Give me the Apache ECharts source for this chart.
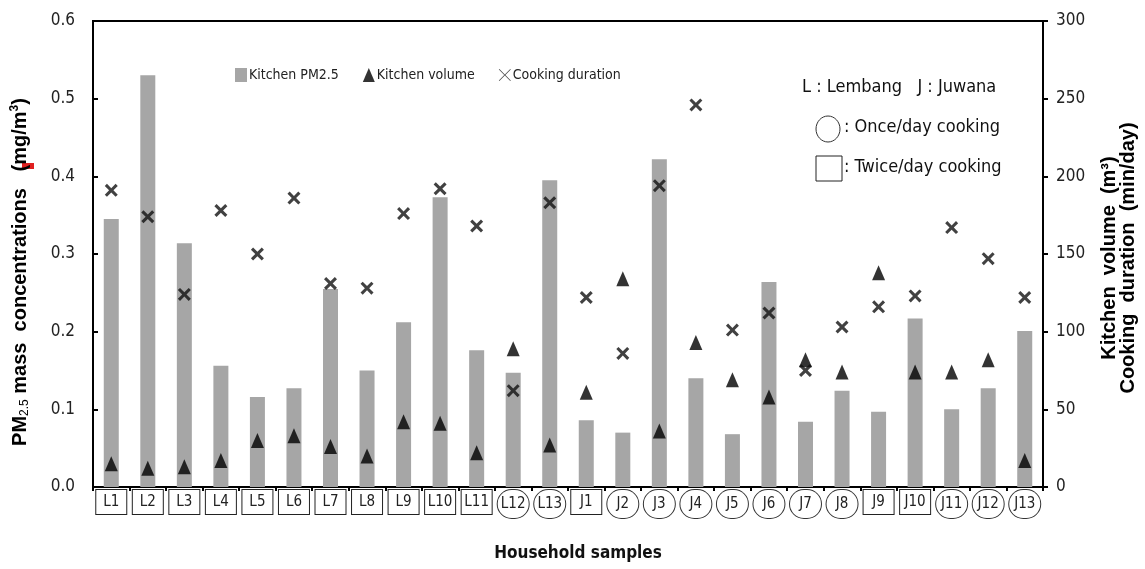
<!DOCTYPE html>
<html>
<head>
<meta charset="utf-8">
<script src="https://cdn.jsdelivr.net/npm/echarts@6/dist/echarts.min.js"></script>
<style>
  html, body { margin: 0; padding: 0; background: #fff; }
  #main { width: 1145px; height: 569px; }
</style>
</head>
<body>
<div id="main"></div>
<script>
// household samples (L = Lembang, J = Juwana)
var categories = ['L1','L2','L3','L4','L5','L6','L7','L8','L9','L10','L11','L12','L13',
                  'J1','J2','J3','J4','J5','J6','J7','J8','J9','J10','J11','J12','J13'];
// once/day cooking households are circled, the rest are boxed
var onceDay = ['L12','L13','J2','J3','J4','J5','J6','J7','J8','J11','J12','J13'];

// kitchen PM2.5 (mg/m3), left axis
var pm25 = [0.345, 0.530, 0.314, 0.156, 0.116, 0.127, 0.255, 0.150, 0.212, 0.373, 0.176, 0.147, 0.395,
            0.086, 0.070, 0.422, 0.140, 0.068, 0.264, 0.084, 0.124, 0.097, 0.217, 0.100, 0.127, 0.201];
// kitchen volume (m3), right axis
var volume = [15, 12, 13, 17, 30, 33, 26, 20, 42, 41, 22, 89, 27,
              61, 134, 36, 93, 69, 58, 82, 74, 138, 74, 74, 82, 17];
// cooking duration (min/day), right axis
var duration = [191, 174, 124, 178, 150, 186, 131, 128, 176, 192, 168, 62, 183,
                122, 86, 194, 246, 101, 112, 75, 103, 116, 123, 167, 147, 122];

var narrow = "'Liberation Sans Narrow', 'DejaVu Sans Condensed', sans-serif";
var boldFont = "'Liberation Sans', Arial, sans-serif";
var crossPath = 'path://M0,2L2,0L6,4L10,0L12,2L8,6L12,10L10,12L6,8L2,12L0,10L4,6Z';

var dom = document.getElementById('main');
var myChart = echarts.init(dom);
var option = {
  backgroundColor: '#fff',
  animation: false,
  textStyle: { fontFamily: narrow },
  grid: {
    left: 93, right: 102, top: 21, bottom: 82,
    containLabel: false, outerBoundsMode: 'none',
    show: true, borderColor: '#000', borderWidth: 2, backgroundColor: 'transparent'
  },
  legend: {
    left: 230, top: 63,
    itemWidth: 12, itemHeight: 14, itemGap: 24,
    textStyle: { fontFamily: narrow, fontSize: 14, color: '#222', padding: [0, 0, 0, -3] },
    data: [
      { name: 'Kitchen PM2.5', icon: 'rect', itemStyle: { color: '#a6a6a6' } },
      { name: 'Kitchen volume', icon: 'triangle', itemStyle: { color: '#000' } },
      { name: 'Cooking duration', icon: 'path://M0,0.6L0.6,0L6,5.4L11.4,0L12,0.6L6.6,6L12,11.4L11.4,12L6,6.6L0.6,12L0,11.4L5.4,6Z', itemStyle: { color: '#222' } }
    ]
  },
  xAxis: {
    type: 'category',
    data: categories,
    name: 'Household samples',
    nameLocation: 'middle',
    nameGap: 58,
    nameTextStyle: { fontFamily: narrow, fontSize: 17, color: '#111', fontWeight: 'bold', padding: [0, 0, 0, 20] },
    axisLine: { lineStyle: { color: '#000', width: 2 } },
    axisTick: { show: true, length: 4, lineStyle: { color: '#000', width: 2 } },
    axisLabel: {
      margin: 3,
      interval: 0,
      formatter: function (v) {
        return onceDay.indexOf(v) >= 0 ? '{ci|' + v + '}' : '{sq|' + v + '}';
      },
      rich: {
        sq: { fontFamily: narrow, fontSize: 15, color: '#222', width: 30, height: 24, align: 'center',
              borderColor: '#222', borderWidth: 1, backgroundColor: '#fff' },
        ci: { fontFamily: narrow, fontSize: 15, color: '#222', width: 31, height: 28, align: 'center',
              borderColor: '#333', borderWidth: 1, borderRadius: 15, backgroundColor: '#fff' }
      }
    }
  },
  yAxis: [
    {
      type: 'value', min: 0, max: 0.6, interval: 0.1,
      name: '{b|PM}{s|2.5}{b| mass  concentrations   (mg/m}{p|3}{b|)}',
      nameLocation: 'middle', nameRotate: 90, nameGap: 62,
      nameTextStyle: {
        padding: [0, 36, 0, 0],
        rich: {
          b: { fontFamily: boldFont, fontWeight: 'bold', fontSize: 20, color: '#000', height: 22, verticalAlign: 'middle' },
          s: { fontFamily: boldFont, fontSize: 12, color: '#000', verticalAlign: 'bottom', padding: [8, 0, 0, 0] },
          p: { fontFamily: boldFont, fontWeight: 'bold', fontSize: 12, color: '#000', verticalAlign: 'top', padding: [0, 0, 8, 0] }
        }
      },
      axisLine: { show: true, lineStyle: { color: '#000', width: 2 } },
      axisTick: { show: true, inside: true, length: 5, lineStyle: { color: '#000', width: 2 } },
      splitLine: { show: false },
      axisLabel: {
        margin: 18, fontSize: 17, color: '#222', fontFamily: narrow,
        formatter: function (v) { return v.toFixed(1); }
      }
    },
    {
      type: 'value', min: 0, max: 300, interval: 50,
      name: 'Kitchen  volume  (m³)\nCooking  duration  (min/day)',
      nameLocation: 'middle', nameRotate: 90, nameGap: 57,
      nameTextStyle: { fontFamily: boldFont, fontWeight: 'bold', fontSize: 20, color: '#000', lineHeight: 19, padding: [0, 8, 0, 0] },
      axisLine: { show: true, lineStyle: { color: '#000', width: 2 } },
      axisTick: { show: true, length: 5, lineStyle: { color: '#000', width: 2 } },
      splitLine: { show: false },
      axisLabel: { margin: 13, fontSize: 17, color: '#222', fontFamily: narrow }
    }
  ],
  series: [
    {
      name: 'Kitchen PM2.5', type: 'bar', yAxisIndex: 0, data: pm25,
      barWidth: 15, itemStyle: { color: '#a6a6a6' }
    },
    {
      name: 'Kitchen volume', type: 'scatter', yAxisIndex: 1, data: volume,
      symbol: 'triangle', symbolSize: [13, 15], itemStyle: { color: '#000' }, z: 3
    },
    {
      name: 'Cooking duration', type: 'scatter', yAxisIndex: 1, data: duration,
      symbol: crossPath, symbolSize: 13, itemStyle: { color: '#111' }, z: 4
    }
  ],
  graphic: [
    { type: 'text', left: 802, top: 78,
      style: { text: 'L : Lembang   J : Juwana', fontFamily: narrow, fontSize: 18, fill: '#111' } },
    { type: 'ellipse', shape: { cx: 828, cy: 129, rx: 12, ry: 13 },
      style: { fill: 'none', stroke: '#333', lineWidth: 1 } },
    { type: 'text', left: 844, top: 118,
      style: { text: ': Once/day cooking', fontFamily: narrow, fontSize: 18, fill: '#111' } },
    { type: 'rect', shape: { x: 816, y: 156, width: 26, height: 25 },
      style: { fill: 'none', stroke: '#222', lineWidth: 1 } },
    { type: 'text', left: 844, top: 158,
      style: { text: ': Twice/day cooking', fontFamily: narrow, fontSize: 18, fill: '#111' } },
    { type: 'rect', shape: { x: 22, y: 163, width: 12, height: 6 },
      style: { fill: '#e02020' } }
  ]
};
if (option && typeof option === "object") {
  myChart.setOption(option, true);
}
</script>
</body>
</html>
